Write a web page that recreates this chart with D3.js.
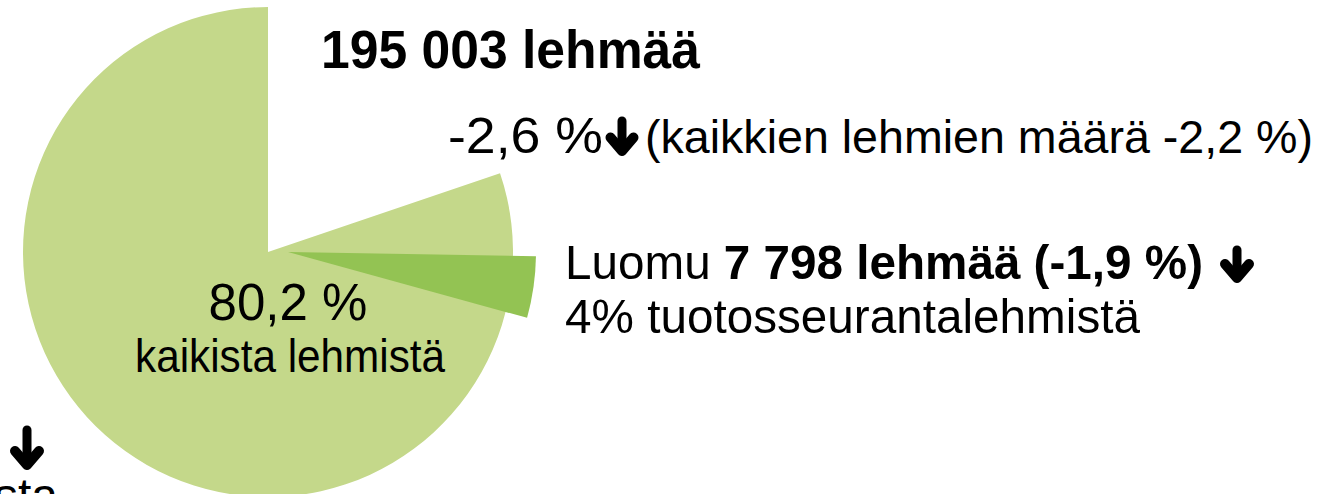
<!DOCTYPE html>
<html lang="fi">
<head>
<meta charset="utf-8">
<script src="https://cdn.jsdelivr.net/npm/d3@7"></script>
<style>
  body { margin: 0; background: #fff; }
  svg { display: block; font-family: "Liberation Sans", Arial, sans-serif; }
</style>
</head>
<body>
<div id="chart"></div>
<script>
// Osuudet kaikista lehmistä (%)
const categories = ["Muut lehmät", "Tuotosseurantalehmät"];
const shares = [19.8, 80.2];

// Luomulehmien osuus tuotosseurantalehmistä (%)
const organicCategories = ["Luomu", "Muut tuotosseurantalehmät"];
const organicShares = [4.0, 96.0];

// Tekstit
const totalLabel = "195 003 lehmää";
const changeLabel = "-2,6 %";
const allCowsLabel = "(kaikkien lehmien määrä -2,2 %)";
const shareLabel = "80,2 %";
const shareSubLabel = "kaikista lehmistä";
const organicPrefix = "Luomu ";
const organicBold = "7 798 lehmää (-1,9 %)";
const organicShareLabel = "4% tuotosseurantalehmistä";
const cutLabel = "kaikista";

const width = 1335, height = 494;
const cx = 268, cy = 252, radius = 245;

const colors = { muut: "none", tuotos: "#c4d88a", luomu: "#93c353" };

const svg = d3.select("#chart").append("svg")
  .attr("width", width)
  .attr("height", height);

svg.append("rect").attr("width", width).attr("height", height).attr("fill", "#fff");

// Pääpiirakka
const pie = d3.pie().sort(null).value(d => d);
const arc = d3.arc().innerRadius(0).outerRadius(radius);

svg.append("g")
  .attr("transform", `translate(${cx},${cy})`)
  .selectAll("path")
  .data(pie(shares))
  .join("path")
  .attr("d", arc)
  .attr("fill", (d, i) => i === 0 ? colors.muut : colors.tuotos);

// Luomusiivu, irrotettu
const rot = 91 * Math.PI / 180;
const organicPie = d3.pie().sort(null).value(d => d)
  .startAngle(rot).endAngle(rot + 2 * Math.PI);
const organicArc = d3.arc().innerRadius(0).outerRadius(248);

svg.append("g")
  .attr("transform", `translate(${cx + 20},${cy})`)
  .selectAll("path")
  .data(organicPie(organicShares).slice(0, 1))
  .join("path")
  .attr("d", organicArc)
  .attr("fill", colors.luomu);

// Alanuoli
function downArrow(x, top, h, w) {
  const g = svg.append("g")
    .attr("fill", "none")
    .attr("stroke", "#000")
    .attr("stroke-linecap", "round")
    .attr("stroke-linejoin", "round");
  g.append("line")
    .attr("x1", x).attr("x2", x)
    .attr("y1", top + 5).attr("y2", top + h - 8)
    .attr("stroke-width", 9);
  g.append("path")
    .attr("d", `M${x - w / 2 + 5},${top + h - w / 2 - 2} L${x},${top + h - 5} L${x + w / 2 - 5},${top + h - w / 2 - 2}`)
    .attr("stroke-width", 10);
}

// Otsikko
svg.append("text")
  .attr("x", 321).attr("y", 68)
  .attr("font-size", 53).attr("font-weight", "bold")
  .attr("textLength", 379).attr("lengthAdjust", "spacingAndGlyphs")
  .text(totalLabel);

svg.append("text")
  .attr("x", 448).attr("y", 153)
  .attr("font-size", 50)
  .attr("textLength", 155).attr("lengthAdjust", "spacingAndGlyphs")
  .text(changeLabel);
downArrow(622, 116, 40, 33);
svg.append("text")
  .attr("x", 645).attr("y", 153)
  .attr("font-size", 47)
  .attr("textLength", 668).attr("lengthAdjust", "spacingAndGlyphs")
  .text(allCowsLabel);

// Luomu
const t3 = svg.append("text")
  .attr("x", 565).attr("y", 279)
  .attr("font-size", 49)
  .attr("textLength", 638).attr("lengthAdjust", "spacingAndGlyphs");
t3.append("tspan").text(organicPrefix);
t3.append("tspan").attr("font-weight", "bold").text(organicBold);
downArrow(1237, 245, 38, 34);

svg.append("text")
  .attr("x", 565).attr("y", 333)
  .attr("font-size", 49)
  .attr("textLength", 575).attr("lengthAdjust", "spacingAndGlyphs")
  .text(organicShareLabel);

// Piirakan sisällä
svg.append("text")
  .attr("x", 288).attr("y", 320)
  .attr("text-anchor", "middle")
  .attr("font-size", 51)
  .text(shareLabel);
svg.append("text")
  .attr("x", 290).attr("y", 372)
  .attr("text-anchor", "middle")
  .attr("font-size", 46)
  .attr("textLength", 310).attr("lengthAdjust", "spacingAndGlyphs")
  .text(shareSubLabel);

// Vasen alakulma
downArrow(27, 425, 45, 34);
svg.append("text")
  .attr("x", 58).attr("y", 512)
  .attr("text-anchor", "end")
  .attr("font-size", 48)
  .text(cutLabel);
</script>
</body>
</html>
